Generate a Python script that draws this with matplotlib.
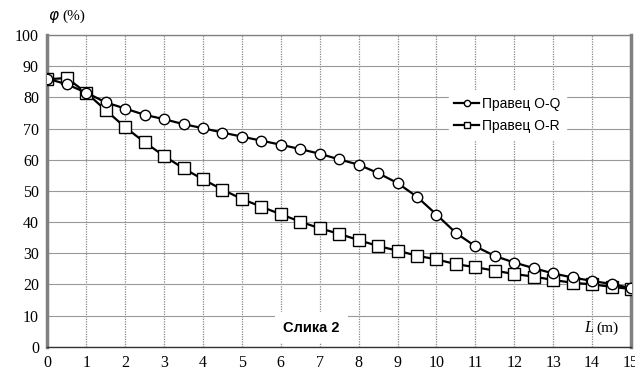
import matplotlib
matplotlib.use("Agg")
import matplotlib.pyplot as plt

L = [0, 0.5, 1, 1.5, 2, 2.5, 3, 3.5, 4, 4.5, 5, 5.5, 6, 6.5, 7, 7.5, 8, 8.5, 9, 9.5,
     10, 10.5, 11, 11.5, 12, 12.5, 13, 13.5, 14, 14.5, 15]
phi_OQ = [86.0, 84.2, 81.5, 78.4, 76.4, 74.4, 73.0, 71.4, 70.1, 68.7, 67.4, 66.1, 64.8, 63.4, 61.9,
          60.1, 58.4, 55.7, 52.5, 48.1, 42.4, 36.5, 32.2, 29.1, 27.0, 25.2, 23.5, 22.2, 21.1, 20.1, 18.8]
phi_OR = [85.8, 86.2, 81.5, 75.9, 70.4, 65.6, 61.2, 57.2, 53.7, 50.4, 47.4, 44.9, 42.5, 40.1, 38.0,
          36.2, 34.2, 32.3, 30.8, 29.2, 28.0, 26.5, 25.5, 24.4, 23.3, 22.5, 21.4, 20.5, 20.0, 19.2, 18.5]
labels = ["Правец O-Q", "Правец O-R"]
xticks = list(range(0, 16))
yticks = list(range(0, 101, 10))

fig = plt.figure(figsize=(6.35, 3.70), dpi=100)
ax = fig.add_axes([0.0745, 0.063, 0.9192, 0.8424])

ax.plot(L, phi_OQ, color="black", lw=1.6, marker="o", ms=7.5, mfc="white", mec="black", mew=1.0,
        label=labels[0], zorder=4)
ax.plot(L, phi_OR, color="black", lw=1.6, marker="s", ms=8, mfc="white", mec="black", mew=1.0,
        label=labels[1], zorder=3)

ax.set_xlim(0, 15)
ax.set_ylim(0, 100)
ax.set_xticks(xticks)
ax.set_yticks(yticks)
serif = {"family": "Liberation Serif", "size": 11.5}
ax.set_xticklabels([str(t) for t in xticks], fontdict=serif)
ax.set_yticklabels([str(t) for t in yticks], fontdict=serif)
ax.tick_params(axis="both", length=0, pad=6)

ax.xaxis.grid(True, color="#888888", ls=(0, (1, 1)), lw=0.9)
ax.yaxis.grid(True, color="#999999", ls="-", lw=0.8)
ax.set_axisbelow(True)

ax.spines["top"].set_color("#808080")
ax.spines["top"].set_linewidth(1.0)
for s in ["left", "right"]:
    ax.spines[s].set_color("#808080")
    ax.spines[s].set_linewidth(2.5)
ax.spines["bottom"].set_color("#333333")
ax.spines["bottom"].set_linewidth(1.0)

leg = ax.legend(loc="center", bbox_to_anchor=(0.788, 0.743), frameon=True, fancybox=False,
                framealpha=1, facecolor="white", edgecolor="white", markerscale=0.6,
                handlelength=1.8, handletextpad=0.2, borderpad=0.4, labelspacing=0.6,
                prop={"family": "Liberation Sans", "size": 10})
leg.set_zorder(5)

fig.text(0.076, 0.955, r"$\varphi$", fontsize=11, family="Liberation Serif", style="italic",
         ha="left", va="center")
fig.text(0.098, 0.955, "(%)", fontsize=11, family="Liberation Serif", ha="left", va="center")

ax.text(0.452, 0.061, "Слика 2", transform=ax.transAxes, ha="center", va="center",
        fontsize=10.5, fontweight="bold", family="Liberation Sans", zorder=6,
        bbox=dict(facecolor="white", edgecolor="none", pad=6))
ax.text(0.935, 0.06, "L", transform=ax.transAxes, ha="right", va="center",
        fontsize=11.5, style="italic", family="Liberation Serif", zorder=6)
ax.text(0.94, 0.06, "(m)", transform=ax.transAxes, ha="left", va="center",
        fontsize=11, family="Liberation Serif", zorder=6)

fig.savefig("out.png", dpi=100, facecolor="white")
